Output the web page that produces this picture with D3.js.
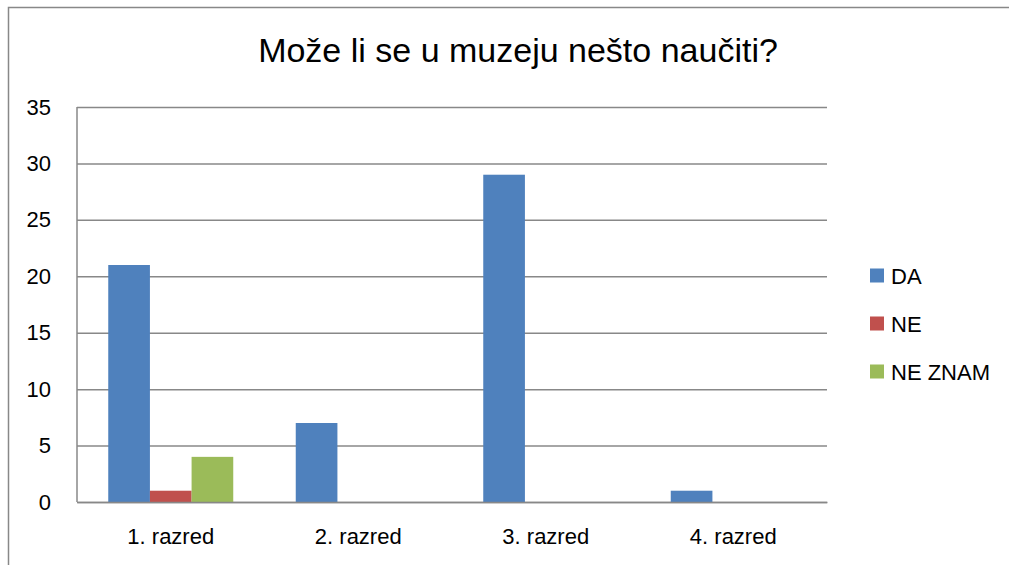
<!DOCTYPE html>
<html><head><meta charset="utf-8">
<script src="https://cdn.jsdelivr.net/npm/d3@7"></script>
<style>body{margin:0;background:#fff}svg{display:block}text{font-family:"Liberation Sans",Arial,sans-serif;fill:#000}</style>
</head><body><svg id="c" width="1009" height="565"></svg>
<script>
const title = "Može li se u muzeju nešto naučiti?";
const categories = ["1. razred", "2. razred", "3. razred", "4. razred"];
const seriesNames = ["DA", "NE", "NE ZNAM"];
const seriesColors = ["#4F81BD", "#C0504D", "#9BBB59"];
const valuesDA = [21, 7, 29, 1];
const valuesNE = [1, 0, 0, 0];
const valuesNEZNAM = [4, 0, 0, 0];
const yTicks = [0, 5, 10, 15, 20, 25, 30, 35];

const series = [valuesDA, valuesNE, valuesNEZNAM];
const svg = d3.select("#c");
const m = {left: 77, right: 827, top: 107, bottom: 502};
const FF = '"Liberation Sans",Arial,sans-serif';

// chart border
svg.append("path").attr("d", "M8.5,565 V7.5 H1009").attr("fill", "none").attr("stroke", "#888").attr("stroke-width", 1.5);

const x = d3.scaleBand().domain(categories).range([m.left, m.right]).paddingInner(0).paddingOuter(0);
const inner = d3.scaleBand().domain(seriesNames).range([0, x.bandwidth()]).paddingInner(0).paddingOuter(0.75);
const y = d3.scaleLinear().domain([0, 35]).range([m.bottom, m.top]);

// gridlines
const yAxis = d3.axisLeft(y).tickValues(yTicks).tickSize(-(m.right - m.left)).tickFormat(d3.format("d")).tickPadding(26);
const ga = svg.append("g").attr("transform", `translate(${m.left},0)`).call(yAxis);
ga.select(".domain").remove();
ga.selectAll(".tick line").attr("stroke", "#888").attr("stroke-width", 1.5);
ga.selectAll(".tick text").attr("font-size", 22).attr("fill", "#000").style("font-family", FF);

// bars
seriesNames.forEach((s, si) => {
  svg.append("g").selectAll("rect").data(categories).join("rect")
    .attr("x", c => x(c) + inner(s))
    .attr("width", inner.bandwidth())
    .attr("y", (c, i) => y(series[si][i]))
    .attr("height", (c, i) => y(0) - y(series[si][i]))
    .attr("fill", seriesColors[si]);
});

// axes lines
svg.append("line").attr("x1", m.left).attr("x2", m.left).attr("y1", m.top).attr("y2", m.bottom).attr("stroke", "#888").attr("stroke-width", 1.5);
const xAxis = d3.axisBottom(x).tickSize(0).tickPadding(26);
const gx = svg.append("g").attr("transform", `translate(0,${m.bottom})`).call(xAxis);
gx.select(".domain").attr("stroke", "#888").attr("stroke-width", 1.5);
gx.selectAll(".tick text").attr("font-size", 22).attr("fill", "#000").style("font-family", FF);

// title
svg.append("text").attr("x", 518).attr("y", 62).attr("text-anchor", "middle").attr("font-size", 34).text(title);

// legend
const lg = svg.append("g");
seriesNames.forEach((s, i) => {
  const cy = 275.5 + i * 48;
  lg.append("rect").attr("x", 870).attr("y", cy - 7).attr("width", 14).attr("height", 14).attr("fill", seriesColors[i]);
  lg.append("text").attr("x", 891).attr("y", cy + 8).attr("font-size", 22).text(s);
});
</script></body></html>
